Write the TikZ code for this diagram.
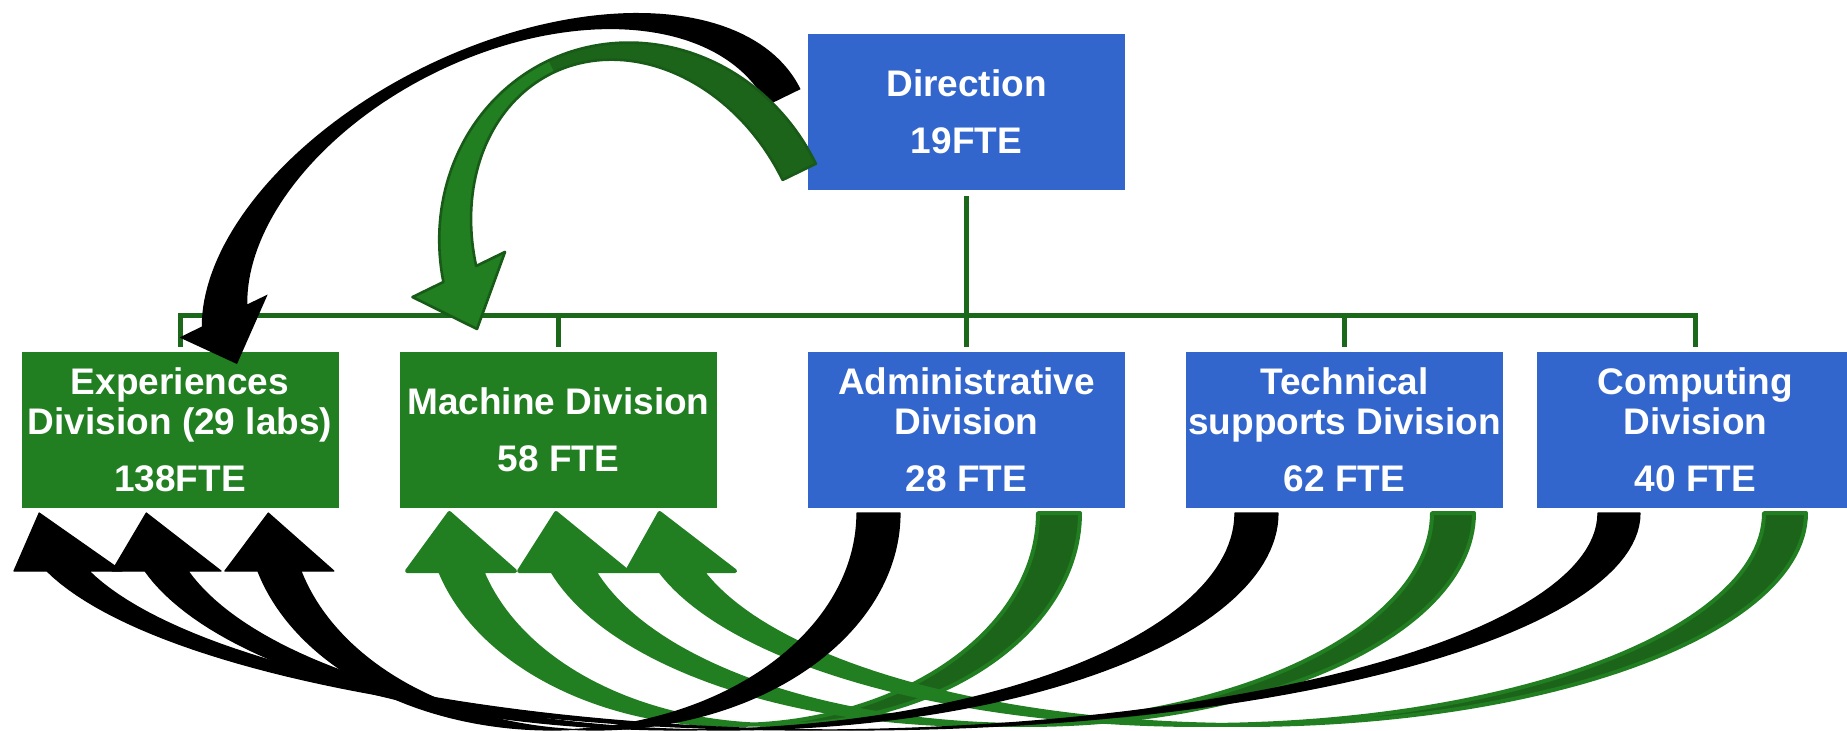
\documentclass[tikz,border=0pt]{standalone}
\usepackage{fontspec}
\setmainfont{Liberation Sans}
\definecolor{boxblue}{RGB}{51,102,204}
\definecolor{boxgreen}{RGB}{33,126,33}
\definecolor{backgreen}{RGB}{28,100,25}
\definecolor{orgline}{RGB}{27,104,27}
\definecolor{edgegreen}{RGB}{24,90,24}

% bottom curved arrow (PowerPoint-like ribbon made of two equal ellipses)
% #1 xA, #2 a, #3 b, #4 shaft width, #5 back colour, #6 front colour, #7 outline colour, #8 outline width
\newcommand\botarrow[8]{%
  \pgfmathsetmacro\arTA{acos(#4/(2*#2))}%
  \pgfmathsetmacro\arTB{180-\arTA}%
  \pgfmathsetmacro\arTH{180-asin(58/#3)}%
  \pgfmathsetmacro\arAx{#1+#2*cos(\arTH)}%
  \pgfmathsetmacro\arBx{\arAx+#4}%
  \pgfmathsetmacro\arTip{(\arAx+\arBx)/2-#2*(1+cos(\arTH))}%
  \fill[#5] plot[domain=0:\arTB,samples=60,variable=\t] ({#1+#4+#2*cos(\t)},{513+#3*sin(\t)})
     -- plot[domain=\arTA:0,samples=60,variable=\t] ({#1+#2*cos(\t)},{513+#3*sin(\t)}) -- cycle;
  \fill[#6] plot[domain=\arTA:\arTH,samples=60,variable=\t] ({#1+#2*cos(\t)},{513+#3*sin(\t)})
     -- (\arAx-33,571) -- (\arTip,513) -- (\arBx+33,571)
     -- plot[domain=\arTH:\arTB,samples=60,variable=\t] ({#1+#4+#2*cos(\t)},{513+#3*sin(\t)}) -- cycle;
  \draw[#7,line width=#8,line join=round] plot[domain=0:\arTH,samples=100,variable=\t] ({#1+#2*cos(\t)},{513+#3*sin(\t)})
     -- (\arAx-33,571) -- (\arTip,513) -- (\arBx+33,571)
     -- plot[domain=\arTH:0,samples=100,variable=\t] ({#1+#4+#2*cos(\t)},{513+#3*sin(\t)}) -- cycle;
}

% top curved arrows, drawn in a local frame (tip at origin, rotated)
\newcommand\blacktoppath[1]{%
  \path[#1] plot[domain=0:164.6,samples=90,variable=\t] ({300+327*cos(\t)},{-185*sin(\t)})
  -- (-40,-49) -- (0,0) -- (58,-49)
  -- plot[domain=163.7:0,samples=90,variable=\t] ({307+283*cos(\t)},{-175*sin(\t)}) -- cycle;}

\newcommand\greentoppath[1]{%
  \path[#1] plot[domain=0:164.25,samples=90,variable=\t] ({180+197*cos(\t)},{-210*sin(\t)})
  -- (-44,-57) -- (0,0) -- (59,-57)
  -- plot[domain=163.18:0,samples=90,variable=\t] ({180+160*cos(\t)},{-197*sin(\t)}) -- cycle;}

\tikzset{
  orgbox/.style={rectangle, inner sep=0pt, minimum width=158.5pt, minimum height=78pt,
    text=white, align=center, font=\fontsize{18.5pt}{20pt}\selectfont\bfseries},
  bluebox/.style={orgbox, fill=boxblue},
  greenbox/.style={orgbox, fill=boxgreen},
  org/.style={draw=orgline, line width=2.5pt},
}

\begin{document}
\begin{tikzpicture}[x=0.5pt,y=-0.5pt]
\useasboundingbox (0,0) rectangle (1847,730);
\clip (0,0) rectangle (1847,730);

% boxes
\node[bluebox]  (dir)  at (966.5,112) {Direction\\[8.5pt]19FTE};
\node[greenbox] (exp)  at (180,430)   {Experiences\\Division (29 labs)\\[8.5pt]138FTE};
\node[greenbox] (mach) at (558.5,430) {Machine Division\\[8.5pt]58 FTE};
\node[bluebox]  (adm)  at (966.5,430) {Administrative\\Division\\[8.5pt]28 FTE};
\node[bluebox]  (tech) at (1344.5,430) {Technical\\supports Division\\[8.5pt]62 FTE};
\node[bluebox]  (comp) at (1695.5,430) {Computing\\Division\\[8.5pt]40 FTE};

% org lines
\draw[org] ([yshift=-3pt]dir.south) -- ([yshift=2.5pt]adm.north);
\draw[org] ([yshift=2.5pt]exp.north) -- ++(0,-31) -| ([yshift=2.5pt]comp.north);
\draw[org] ([yshift=2.5pt]mach.north) -- ++(0,-31);
\draw[org] ([yshift=2.5pt]tech.north) -- ++(0,-31);

% top curved arrows
\begin{scope}[shift={(237,364)},rotate=26]
  \blacktoppath{fill=black}
\end{scope}
\begin{scope}[shift={(477,329)},rotate=26]
  \greentoppath{fill=boxgreen}
  \begin{scope}
    \clip (182,-260) rectangle (420,20);
    \greentoppath{fill=backgreen}
  \end{scope}
  \greentoppath{draw=edgegreen, line width=1.3pt, line join=round}
\end{scope}

% bottom curved arrows: green first, then black
\botarrow{733.2}{304.8}{212}{42}{backgreen}{boxgreen}{boxgreen}{2pt}
\botarrow{983.5}{448.5}{212}{42}{backgreen}{boxgreen}{boxgreen}{2pt}
\botarrow{1201.3}{562.7}{212}{42}{backgreen}{boxgreen}{boxgreen}{2pt}
\botarrow{808.1}{789.9}{217}{42}{black}{black}{black}{0.6pt}
\botarrow{679.9}{555.1}{217}{43}{black}{black}{black}{0.6pt}
\botarrow{551.9}{305.1}{217}{43}{black}{black}{black}{0.6pt}
\end{tikzpicture}
\end{document}
